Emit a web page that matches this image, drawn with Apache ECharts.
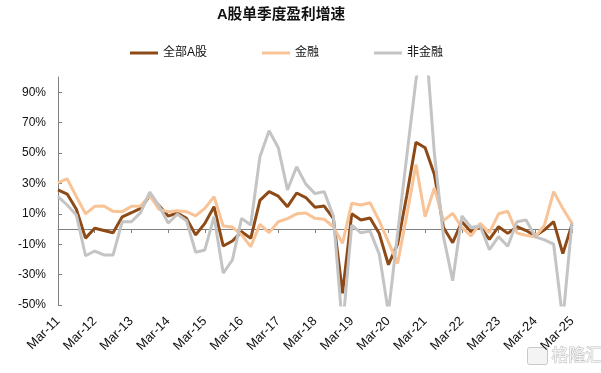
<!DOCTYPE html>
<html><head><meta charset="utf-8">
<script src="https://cdn.jsdelivr.net/npm/echarts@6/dist/echarts.min.js"></script>
<style>html,body{margin:0;padding:0;background:#fff}#c{width:601px;height:373px}</style>
</head><body><div id="c"></div>
<script>
const categories = [
  'Mar-11','Jun-11','Sep-11','Dec-11','Mar-12','Jun-12','Sep-12','Dec-12',
  'Mar-13','Jun-13','Sep-13','Dec-13','Mar-14','Jun-14','Sep-14','Dec-14',
  'Mar-15','Jun-15','Sep-15','Dec-15','Mar-16','Jun-16','Sep-16','Dec-16',
  'Mar-17','Jun-17','Sep-17','Dec-17','Mar-18','Jun-18','Sep-18','Dec-18',
  'Mar-19','Jun-19','Sep-19','Dec-19','Mar-20','Jun-20','Sep-20','Dec-20',
  'Mar-21','Jun-21','Sep-21','Dec-21','Mar-22','Jun-22','Sep-22','Dec-22',
  'Mar-23','Jun-23','Sep-23','Dec-23','Mar-24','Jun-24','Sep-24','Dec-24',
  'Mar-25'
];
const allA = [
  25.7, 23, 13, -6, 0.5, -1, -2.5, 8,
  10.7, 13.6, 22, 15.5, 8.5, 10.5, 7, -3.9,
  3.7, 14.7, -11.2, -7.9, -1.8, -6.1, 18.8, 24.6,
  21.6, 14.7, 23.7, 20.7, 14.3, 15.1, 7, -42.3,
  10, 5.9, 7.2, -3, -23.5, -10, 22, 57,
  53.5, 36, 1, -9, 4.8, -1.8, 1.5, -6.8,
  1.5, -2.9, 1.5, -1, -4.5, -0.5, 4.8, -16.2,
  3
];
const finance = [
  30.5, 33, 21.3, 10, 14.9, 15.1, 11.6, 11.4,
  14.9, 15.1, 22, 13, 11.4, 12, 11.4, 8.7,
  13.6, 21.3, 2, 1.3, -3.9, -11.6, 3, -2.4,
  4.8, 6.8, 10, 10.5, 7, 6.4, 1.5, -9.4,
  16.9, 15.8, 17.3, 5.3, -8.5, -22.6, 9, 42.5,
  8, 27, 5.5, 10.3, 1, -4.5, 3.7, -2.4,
  10, 11.7, -2.6, -4.2, -5.2, 2.5, 24.6, 13.5,
  3.7
];
const nonFinance = [
  21.3, 15.8, 9.2, -17.6, -14.5, -17.1, -17.1, 4.8,
  4.8, 10.8, 24.2, 15.4, 3.9, 9.7, 5.4, -15.3,
  -13.8, 8.1, -29, -20.4, 7, 2.6, 47.6, 64.6,
  53.5, 25.7, 41, 29.5, 23.3, 24.6, 8.6, -65,
  2.6, -2.5, -1.4, -16.5, -55, -3, 48, 98,
  130, 50, -5, -34, 8.6, 1, 2, -13.6,
  -5, -11.4, 4.8, 5.9, -5.2, -7.2, -10, -60,
  4.4
];
const yTicks = [-50, -30, -10, 10, 30, 50, 70, 90];
const seriesNames = ['全部A股', '金融', '非金融'];
const colors = ['#8E4A16', '#F8C396', '#C4C4C4'];

const FONT = "'Liberation Sans', Arial, 'Noto Sans CJK SC', sans-serif";
const chart = echarts.init(document.getElementById('c'), null, {renderer: 'canvas'});
const dataSets = [allA, finance, nonFinance];

chart.setOption({
  animation: false,
  backgroundColor: '#fff',
  textStyle: {fontFamily: FONT},
  title: {
    text: 'A股单季度盈利增速',
    left: 212, top: 3,
    textStyle: {fontSize: 14.7, fontWeight: 'bold', color: '#111', fontFamily: FONT}
  },
  legend: {
    data: seriesNames,
    left: 125, top: 42,
    icon: 'rect', itemWidth: 28, itemHeight: 3, itemGap: 55,
    textStyle: {fontSize: 12, color: '#111', fontFamily: FONT}
  },
  grid: {left: 58, right: 29, top: 77, bottom: 68, containLabel: false, outerBoundsMode: 'none'},
  xAxis: [
    {
      type: 'category', data: categories, boundaryGap: false,
      axisLine: {onZero: true, lineStyle: {color: '#808080', width: 1}},
      axisTick: {interval: 3, length: 4, lineStyle: {color: '#808080'}},
      axisLabel: {show: false},
      splitLine: {show: false}
    },
    {
      type: 'category', data: categories, boundaryGap: false, position: 'bottom',
      axisLine: {show: false, onZero: false},
      axisTick: {show: false},
      axisLabel: {interval: 3, rotate: 45, margin: 14, fontSize: 13, color: '#111', fontFamily: FONT},
      splitLine: {show: false}
    }
  ],
  yAxis: {
    type: 'value', min: -50, max: 100, interval: 10,
    axisLine: {show: true, lineStyle: {color: '#808080', width: 1}},
    axisTick: {show: true, inside: true, length: 4, customValues: yTicks, lineStyle: {color: '#808080'}},
    axisLabel: {customValues: yTicks, formatter: v => v + '%', fontSize: 12, color: '#111', margin: 12, fontFamily: FONT},
    splitLine: {show: false}
  },
  graphic: [
    {type: 'rect', left: 527, top: 347, shape: {width: 20, height: 17, r: 2},
     style: {fill: '#f4f4f4', stroke: '#c8c8c8', lineWidth: 1}, silent: true},
    {type: 'text', left: 551, top: 346,
     style: {text: '格隆汇', fontSize: 17, fontFamily: "'Noto Sans CJK SC', sans-serif", fill: '#f4f4f4', stroke: '#c0c0c0', lineWidth: 1}, silent: true}
  ],
  series: seriesNames.map((name, k) => ({
    name, type: 'line', xAxisIndex: 0, data: dataSets[k],
    symbol: 'none', smooth: false, clip: true,
    lineStyle: {color: colors[k], width: 3},
    itemStyle: {color: colors[k]}
  }))
});
</script></body></html>
